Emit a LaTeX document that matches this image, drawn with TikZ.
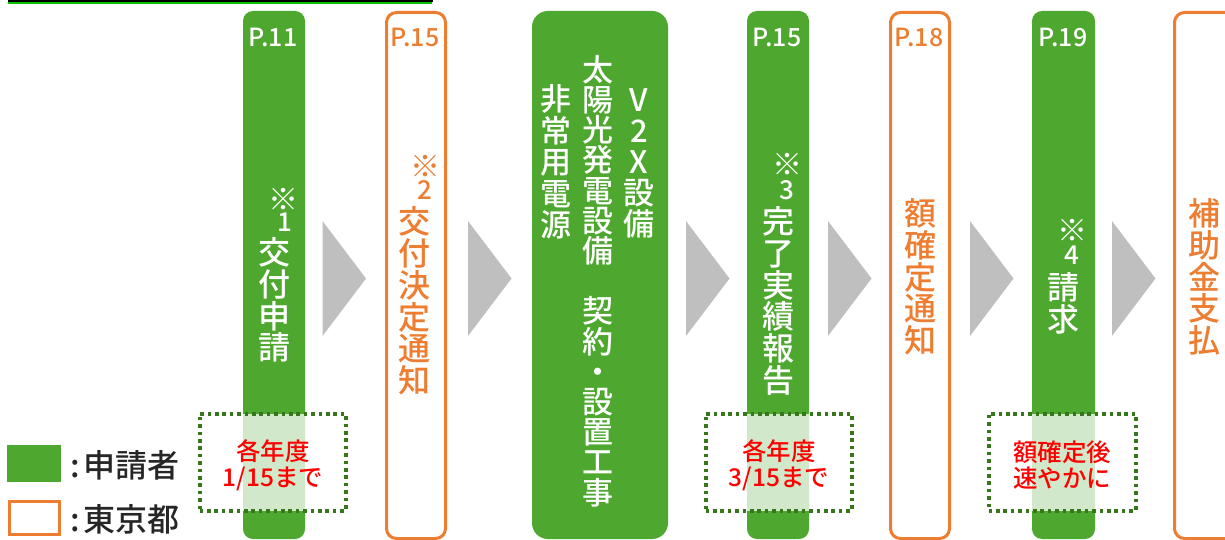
\documentclass[tikz,border=0pt]{standalone}
\usepackage{fontspec}
\setmainfont{Noto Sans CJK JP}[UprightFont={* Medium}]
\definecolor{grn}{HTML}{4EA72E}
\definecolor{org}{HTML}{ED7D31}
\definecolor{arr}{HTML}{BFBFBF}
\definecolor{dotg}{HTML}{38761D}
\definecolor{redt}{HTML}{FF0000}
\definecolor{txt}{HTML}{262626}
\definecolor{topg}{HTML}{00C000}
\tikzset{
  gbar/.style={fill=grn, rounded corners=10pt, inner sep=0pt, minimum width=62pt, minimum height=528pt},
  obar/.style={draw=org, line width=3pt, fill=white, rounded corners=10pt, inner sep=0pt, minimum width=59pt, minimum height=526pt},
  plabel/.style={font=\fontsize{25}{25}\selectfont, inner sep=0pt},
  vlabel/.style={font=\fontsize{32}{31.8}\selectfont, align=center, inner sep=0pt},
  kome/.style={font=\fontsize{30}{30}\selectfont, inner sep=0pt},
  knum/.style={font=\fontsize{26}{26}\selectfont, inner sep=0pt},
  duebox/.style={draw=dotg, line width=4pt, dash pattern=on 3.6pt off 3.8pt, fill=white, fill opacity=0.75, draw opacity=1, inner sep=0pt, minimum width=146pt, minimum height=97pt},
  duetext/.style={font=\fontsize{24.5}{26}\selectfont, align=center, inner sep=0pt, text=redt},
  tri/.style={fill=arr},
  legtext/.style={font=\fontsize{32}{32}\selectfont, inner sep=0pt, anchor=west, text=txt}
}
\begin{document}
\begin{tikzpicture}[x=1pt,y=-1pt]
\clip (0,0) rectangle (1225,540);
\useasboundingbox (0,0) rectangle (1225,540);
% top cut-off frame
\fill[black] (8,0) rectangle (433,2.4);
\fill[topg] (8,2.4) rectangle (432,3.8);

% bars
\node[gbar] (b1) at (274,275) {};
\node[obar] (b2) at (416,275.5) {};
\node[fill=grn, rounded corners=16pt, inner sep=0pt, minimum width=136pt, minimum height=528pt] (b3) at (600,275) {};
\node[gbar] (b4) at (778,275) {};
\node[obar] (b5) at (920,275.5) {};
\node[gbar, minimum width=63pt] (b6) at (1063.5,275) {};
\node[obar, minimum width=80pt] (b7) at (1214.5,275.5) {};

% page labels
\node[plabel, text=white] (p1) at (273,37) {P.11};
\node[plabel, text=org] (p2) at (415,37) {P.15};
\node[plabel, text=white] (p4) at (777,37) {P.15};
\node[plabel, text=org] (p5) at (919,37) {P.18};
\node[plabel, text=white] (p6) at (1063,37) {P.19};

% vertical labels
\node[kome, text=white] (k1) at (283,199) {※};
\node[knum, text=white] (n1) at (285,222.5) {1};
\node[vlabel, text=white] (t1) at (274,300) {交\\付\\申\\請};
\node[kome, text=org] (k2) at (425,166) {※};
\node[knum, text=org] (n2) at (425,190) {2};
\node[vlabel, text=org] (t2) at (414,301) {交\\付\\決\\定\\通\\知};
\node[vlabel, text=white, font=\fontsize{31}{31}\selectfont] (t3a) at (639,163) {V\\2\\X\\設\\備};
\node[vlabel, text=white, font=\fontsize{31}{30.2}\selectfont] (t3b) at (598,281) {太\\陽\\光\\発\\電\\設\\備\\　\\契\\約\\・\\設\\置\\工\\事};
\node[vlabel, text=white, font=\fontsize{31}{31.5}\selectfont] (t3c) at (556,162) {非\\常\\用\\電\\源};
\node[kome, text=white] (k4) at (787,164) {※};
\node[knum, text=white] (n4) at (787,190) {3};
\node[vlabel, text=white] (t4) at (778,301) {完\\了\\実\\績\\報\\告};
\node[vlabel, text=org] (t5) at (920,277) {額\\確\\定\\通\\知};
\node[kome, text=white] (k6) at (1072,230) {※};
\node[knum, text=white] (n6) at (1072,255) {4};
\node[vlabel, text=white] (t6) at (1063,303) {請\\求};
\node[vlabel, text=org] (t7) at (1204,277) {補\\助\\金\\支\\払};

% arrows
\foreach \xa in {322.5,468,686,828,970,1112}{
  \fill[tri] (\xa,221) -- (\xa+43.5,278.5) -- (\xa,336) -- cycle;
}

% due boxes
\node[duebox] (d1) at (272.5,462) {};
\node[duetext] (dt1) at (273,465) {各年度\\1/15まで};
\node[duebox] (d4) at (778.5,462) {};
\node[duetext] (dt4) at (779,465) {各年度\\3/15まで};
\node[duebox, minimum width=147pt] (d6) at (1062,462) {};
\node[duetext] (dt6) at (1062,465) {額確定後\\速やかに};

% legend
\node[fill=grn, inner sep=0pt, minimum width=54pt, minimum height=37pt] (lg) at (34,463.5) {};
\node[draw=org, line width=3pt, fill=white, inner sep=0pt, minimum width=50pt, minimum height=33pt] (lo) at (34,517.5) {};
\node[legtext] (lgt) at (70,465) {:\kern4pt申請者};
\node[legtext] (lot) at (70,519) {:\kern4pt東京都};
\end{tikzpicture}
\end{document}
